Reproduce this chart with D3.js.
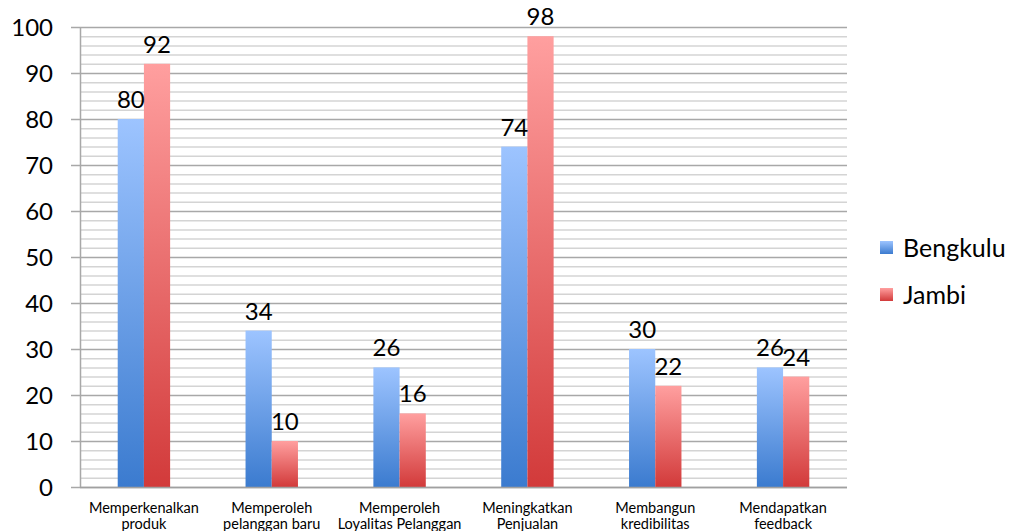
<!DOCTYPE html>
<html>
<head>
<meta charset="utf-8">
<script src="https://cdn.jsdelivr.net/npm/d3@7"></script>
<style>
  body { margin: 0; background: #fff; }
  text { font-family: Lato, "Open Sans", sans-serif; fill: #000; }
</style>
</head>
<body>
<div id="chart"></div>
<script>
// data
const categories = [
  ['Memperkenalkan', 'produk'],
  ['Memperoleh', 'pelanggan baru'],
  ['Memperoleh', 'Loyalitas Pelanggan'],
  ['Meningkatkan', 'Penjualan'],
  ['Membangun', 'kredibilitas'],
  ['Mendapatkan', 'feedback']
];
const seriesNames = ['Bengkulu', 'Jambi'];
const bengkulu = [80, 34, 26, 74, 30, 26];
const jambi = [92, 10, 16, 98, 22, 24];
const yTicks = [0, 10, 20, 30, 40, 50, 60, 70, 80, 90, 100];

const W = 1012, H = 531;
const margin = {top: 27, right: 165, bottom: 44, left: 80};
const width = W - margin.left - margin.right;
const height = H - margin.top - margin.bottom;

const svg = d3.select('#chart').append('svg')
  .attr('width', W).attr('height', H);

// gradients per series
const defs = svg.append('defs');
const grads = [
  {id: 'gBlue', top: '#9dc4ff', bottom: '#3b7bcf'},
  {id: 'gRed', top: '#ff9f9f', bottom: '#d23a3a'}
];
grads.forEach(function (g) {
  const lg = defs.append('linearGradient').attr('id', g.id)
    .attr('x1', 0).attr('y1', 0).attr('x2', 0).attr('y2', 1);
  lg.append('stop').attr('offset', '0%').attr('stop-color', g.top);
  lg.append('stop').attr('offset', '100%').attr('stop-color', g.bottom);
});

const g = svg.append('g')
  .attr('transform', 'translate(' + margin.left + ',' + margin.top + ')');

const x = d3.scaleBand()
  .domain(d3.range(categories.length))
  .range([0, width])
  .paddingInner(0.59).paddingOuter(0.295);
const x1 = d3.scaleBand().domain([0, 1]).range([0, x.bandwidth()]);
const y = d3.scaleLinear().domain([0, 100]).range([height, 0]);

// minor gridlines every 2
g.append('g')
  .selectAll('line')
  .data(d3.range(2, 100, 2).filter(function (v) { return v % 10 !== 0; }))
  .enter().append('line')
    .attr('x1', 0).attr('x2', width)
    .attr('y1', function (d) { return y(d) + 0.5; })
    .attr('y2', function (d) { return y(d) + 0.5; })
    .attr('stroke', '#d4d4d4').attr('stroke-width', 1.5);

// major gridlines + y axis
const yAxis = g.append('g')
  .call(d3.axisLeft(y).tickValues(yTicks).tickSize(-width).tickPadding(27));
yAxis.select('.domain').remove();
yAxis.selectAll('.tick line').attr('stroke', '#a8a8a8').attr('stroke-width', 1.5)
  .attr('x1', -9);
yAxis.selectAll('.tick text').style('font-size', '24px').attr('dy', '0.36em');

// left axis line
g.append('line')
  .attr('x1', 0.5).attr('x2', 0.5).attr('y1', 0).attr('y2', height)
  .attr('stroke', '#a8a8a8').attr('stroke-width', 1.5);

// bars
const groups = g.append('g').selectAll('g')
  .data(categories.map(function (c, i) { return [bengkulu[i], jambi[i]]; }))
  .enter().append('g')
    .attr('transform', function (d, i) { return 'translate(' + x(i) + ',0)'; });

groups.selectAll('rect')
  .data(function (d) { return d; })
  .enter().append('rect')
    .attr('x', function (d, j) { return x1(j); })
    .attr('y', function (d) { return y(d); })
    .attr('width', x1.bandwidth())
    .attr('height', function (d) { return height - y(d); })
    .attr('fill', function (d, j) { return 'url(#' + grads[j].id + ')'; });

groups.selectAll('text.val')
  .data(function (d) { return d; })
  .enter().append('text')
    .attr('class', 'val')
    .attr('x', function (d, j) { return x1(j) + x1.bandwidth() / 2; })
    .attr('y', function (d) { return y(d) - 11; })
    .attr('text-anchor', 'middle')
    .style('font-size', '24px')
    .text(function (d) { return d; });

// x axis line
g.append('line')
  .attr('x1', 0).attr('x2', width).attr('y1', height + 0.5).attr('y2', height + 0.5)
  .attr('stroke', '#a0a0a0').attr('stroke-width', 1.5);

// category labels
const cl = g.append('g').selectAll('text')
  .data(categories)
  .enter().append('text')
    .attr('x', function (d, i) { return x(i) + x.bandwidth() / 2; })
    .attr('y', height + 26)
    .attr('text-anchor', 'middle')
    .style('font-size', '14.5px');
cl.append('tspan').text(function (d) { return d[0]; });
cl.append('tspan')
  .attr('x', function (d, i) { return x(i) + x.bandwidth() / 2; })
  .attr('dy', 16)
  .text(function (d) { return d[1]; });

// legend
const legend = svg.append('g').attr('transform', 'translate(880,241)');
seriesNames.forEach(function (name, i) {
  const row = legend.append('g').attr('transform', 'translate(0,' + i * 47 + ')');
  row.append('rect').attr('width', 13).attr('height', 13)
    .attr('fill', 'url(#' + grads[i].id + ')');
  row.append('text').attr('x', 23).attr('y', 7).attr('dy', '0.36em')
    .style('font-size', '25px').text(name);
});
</script>
</body>
</html>
